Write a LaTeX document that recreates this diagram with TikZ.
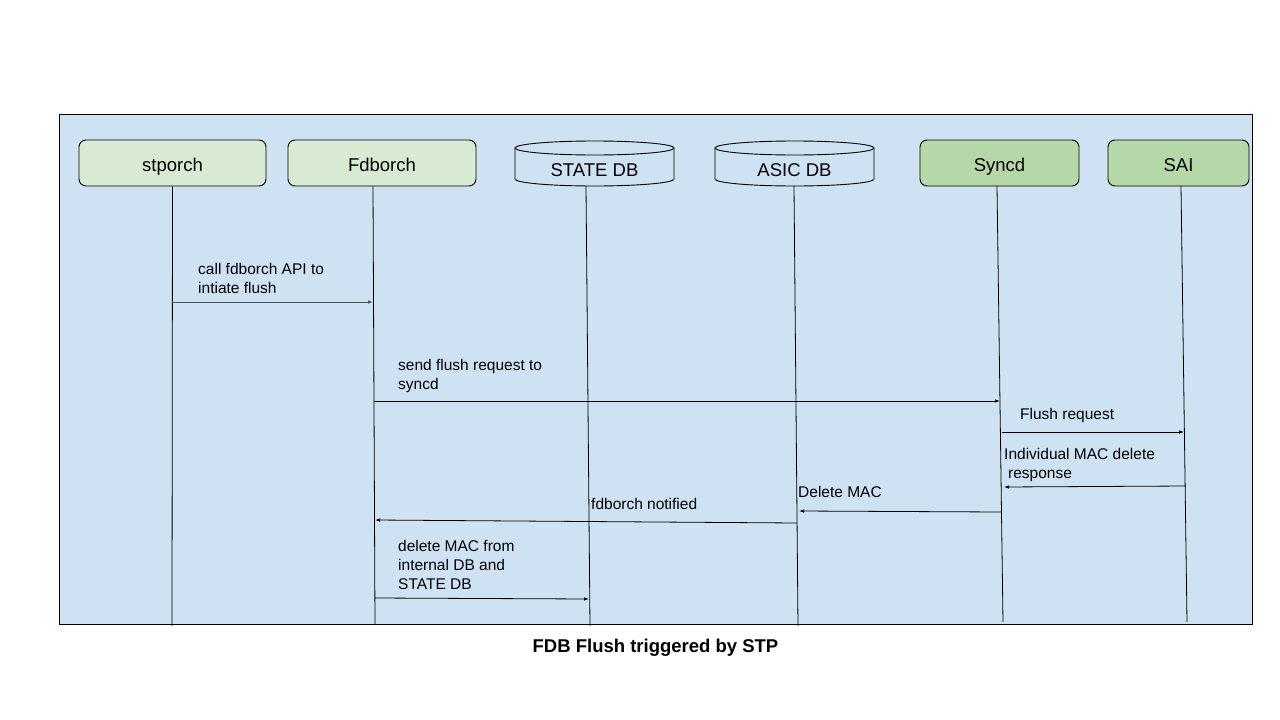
\documentclass[tikz,border=0pt]{standalone}
\usepackage{fontspec}
\setmainfont{Liberation Sans}
\usetikzlibrary{arrows.meta}
\definecolor{bgblue}{HTML}{CFE2F3}
\definecolor{lightgreen}{HTML}{D9EAD3}
\definecolor{midgreen}{HTML}{B6D7A8}
\tikzset{
  actor/.style={draw=black, line width=0.9pt, rounded corners=7pt, minimum height=46pt, inner sep=0pt, text height=17.5pt, text depth=0pt, font=\fontsize{18.5}{22}\selectfont},
  dbtext/.style={inner sep=0pt, text height=13.3pt, text depth=0pt, font=\fontsize{18.5}{22}\selectfont},
  life/.style={draw=black, line width=0.8pt},
  msg/.style={draw=black, line width=0.8pt, -{Latex[length=5pt,width=3.5pt]}},
  lbl/.style={anchor=north west, inner sep=0pt, align=left, font=\fontsize{15.5}{19}\selectfont},
}
\begin{document}
\begin{tikzpicture}[x=1pt,y=-1pt]
\useasboundingbox (0,0) rectangle (1280,720);
\fill[white] (0,0) rectangle (1280,720);
\draw[fill=bgblue, line width=0.9pt] (59,114) rectangle (1252,624);

% actors
\node[actor, fill=lightgreen, minimum width=187pt] (stporch) at (172.5,163) {stporch};
\node[actor, fill=lightgreen, minimum width=188pt] (fdborch) at (382,163) {Fdborch};
\node[actor, fill=midgreen, minimum width=159pt] (syncd) at (999.5,163) {Syncd};
\node[actor, fill=midgreen, minimum width=141pt] (sai) at (1178.5,163) {SAI};

% databases
\foreach \nm/\cx/\txt in {statedb/594.5/STATE DB, asicdb/794.5/ASIC DB}{
  \draw[line width=0.9pt] (\cx-79.5,148) -- (\cx-79.5,179)
     arc[start angle=180, end angle=0, x radius=79.5, y radius=7]
     -- (\cx+79.5,148);
  \draw[line width=0.9pt] (\cx,148) ellipse[x radius=79.5, y radius=7];
  \node[dbtext] (\nm) at (\cx,170) {\txt};
}

% lifeline ends
\coordinate (stporchE) at (172,626);
\coordinate (fdborchE) at (375,624);
\coordinate (statedbE) at (590,626);
\coordinate (asicdbE) at (798,626);
\coordinate (syncdE) at (1003,622);
\coordinate (saiE) at (1187,622);

\draw[life] (stporch.south) -- (stporchE);
\draw[life] (fdborch.south -| 373,0) -- (fdborchE);
\draw[life] (586,186) -- (statedbE);
\draw[life] (794,186) -- (asicdbE);
\draw[life] (997,186) -- (syncdE);
\draw[life] (1181,186) -- (saiE);

% message endpoints
\coordinate (m1a) at (172,302);  \coordinate (m1b) at (373,302);
\coordinate (m2a) at (374,401);  \coordinate (m2b) at (1000,401);
\coordinate (m3a) at (1002,432); \coordinate (m3b) at (1184,432);
\coordinate (m4a) at (1186,486); \coordinate (m4b) at (1004,487);
\coordinate (m5a) at (1001,512); \coordinate (m5b) at (799,511);
\coordinate (m6a) at (797,523);  \coordinate (m6b) at (375,520);
\coordinate (m7a) at (375,598);  \coordinate (m7b) at (589,599);

\draw[msg, draw=black!70] (m1a) -- (m1b);
\draw[msg] (m2a) -- (m2b);
\draw[msg] (m3a) -- (m3b);
\draw[msg] (m4a) -- (m4b);
\draw[msg] (m5a) -- (m5b);
\draw[msg] (m6a) -- (m6b);
\draw[msg] (m7a) -- (m7b);

% labels
\node[lbl] (l1) at (198,263) {call fdborch API to\\intiate flush};
\node[lbl] (l2) at (398,359) {send flush request to\\syncd};
\node[lbl] (l3) at (1020,408) {Flush request};
\node[lbl] (l4) at (1004,448) {Individual MAC delete\\\hspace*{4pt}response};
\node[lbl] (l5) at (798,486) {Delete MAC};
\node[lbl] (l6) at (591,498) {fdborch notified};
\node[lbl] (l7) at (398,540) {delete MAC from\\internal DB and\\STATE DB};

\node[font=\bfseries\fontsize{18.5}{22}\selectfont, inner sep=0pt, text height=13.3pt, text depth=0pt] (caption) at (655.5,646) {FDB Flush triggered by STP};
\end{tikzpicture}
\end{document}
